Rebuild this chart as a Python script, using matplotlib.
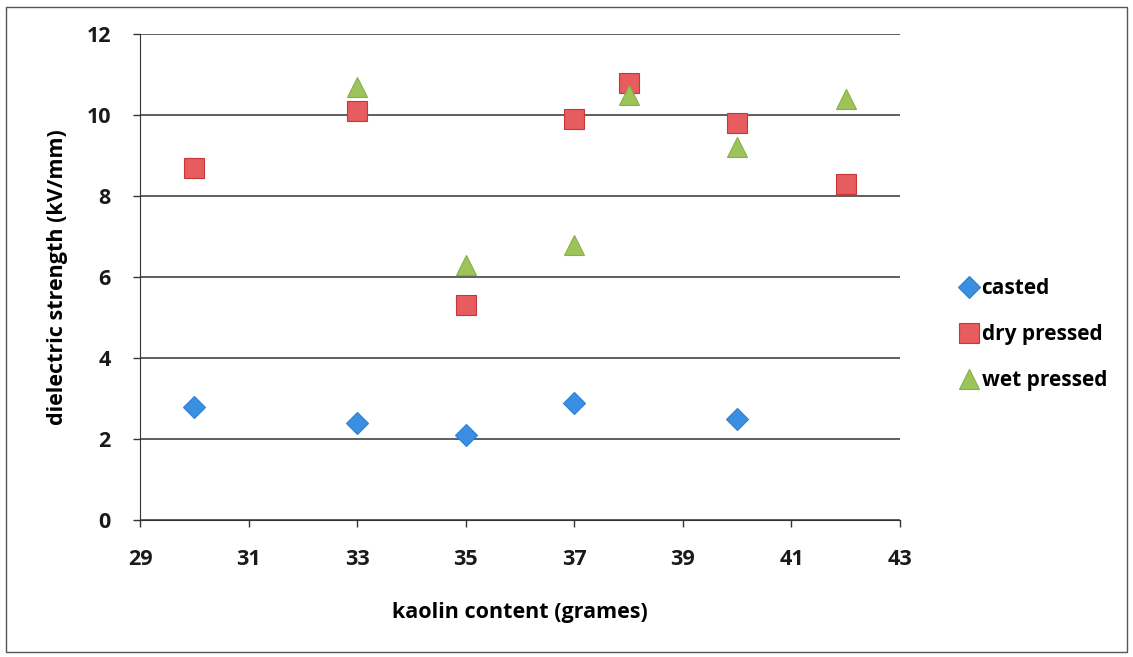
import matplotlib.pyplot as plt
from matplotlib.patches import Rectangle

# kaolin content (grames) vs dielectric strength (kV/mm)
casted_x = [30, 33, 35, 37, 40]
casted_y = [2.8, 2.4, 2.1, 2.9, 2.5]

dry_x = [30, 33, 35, 37, 38, 40, 42]
dry_y = [8.7, 10.1, 5.3, 9.9, 10.8, 9.8, 8.3]

wet_x = [33, 35, 37, 38, 40, 42]
wet_y = [10.7, 6.3, 6.8, 10.5, 9.2, 10.4]

x_ticks = [29, 31, 33, 35, 37, 39, 41, 43]
y_ticks = [0, 2, 4, 6, 8, 10, 12]

plt.rcParams['font.family'] = ['Open Sans', 'DejaVu Sans']
plt.rcParams['font.weight'] = 'bold'

fig = plt.figure(figsize=(11.33, 6.57), dpi=100)
ax = fig.add_axes([0.1236, 0.2085, 0.6708, 0.7397])

ax.plot(casted_x, casted_y, linestyle='none', marker='D', markersize=11,
        color='#3b8fe2', markeredgecolor='#2f7fd0', markeredgewidth=0.8, label='casted', zorder=3)
ax.plot(dry_x, dry_y, linestyle='none', marker='s', markersize=14,
        color='#e65c5f', markeredgecolor='#c8363a', markeredgewidth=0.8, label='dry pressed', zorder=3)
ax.plot(wet_x, wet_y, linestyle='none', marker='^', markersize=14,
        color='#9cc45b', markeredgecolor='#86b046', markeredgewidth=0.8, label='wet pressed', zorder=4)

ax.set_xlim(29, 43)
ax.set_ylim(0, 12)
ax.set_xticks(x_ticks)
ax.set_yticks(y_ticks)
ax.grid(axis='y', color='#333333', linewidth=1.1)
ax.set_axisbelow(True)

for side in ['top', 'right']:
    ax.spines[side].set_visible(False)
ax.spines['left'].set_color('#333333')
ax.spines['bottom'].set_color('#333333')
ax.tick_params(axis='both', direction='out', length=5, width=1, color='#333333',
               labelsize=15.5, labelcolor='#1a1a1a')
ax.tick_params(axis='x', pad=16)
ax.tick_params(axis='y', pad=16)
for lbl in ax.get_xticklabels() + ax.get_yticklabels():
    lbl.set_fontweight('bold')

ax.set_xlabel('kaolin content (grames)', fontsize=15.5, fontweight='bold', labelpad=23)
ax.set_ylabel('dielectric strength (kV/mm)', fontsize=15.5, fontweight='bold', labelpad=13)

leg = fig.legend(loc='center left', bbox_to_anchor=(0.836, 0.491), frameon=False,
                 fontsize=15, handletextpad=0.05, labelspacing=1.2, handlelength=1.1,
                 borderpad=0)
for t in leg.get_texts():
    t.set_fontweight('bold')

# thin frame round the whole chart
fig.patches.append(Rectangle((0.005, 0.008), 0.99, 0.982, transform=fig.transFigure,
                             fill=False, edgecolor='#555555', linewidth=1.0))

fig.savefig('out.png', dpi=100)
